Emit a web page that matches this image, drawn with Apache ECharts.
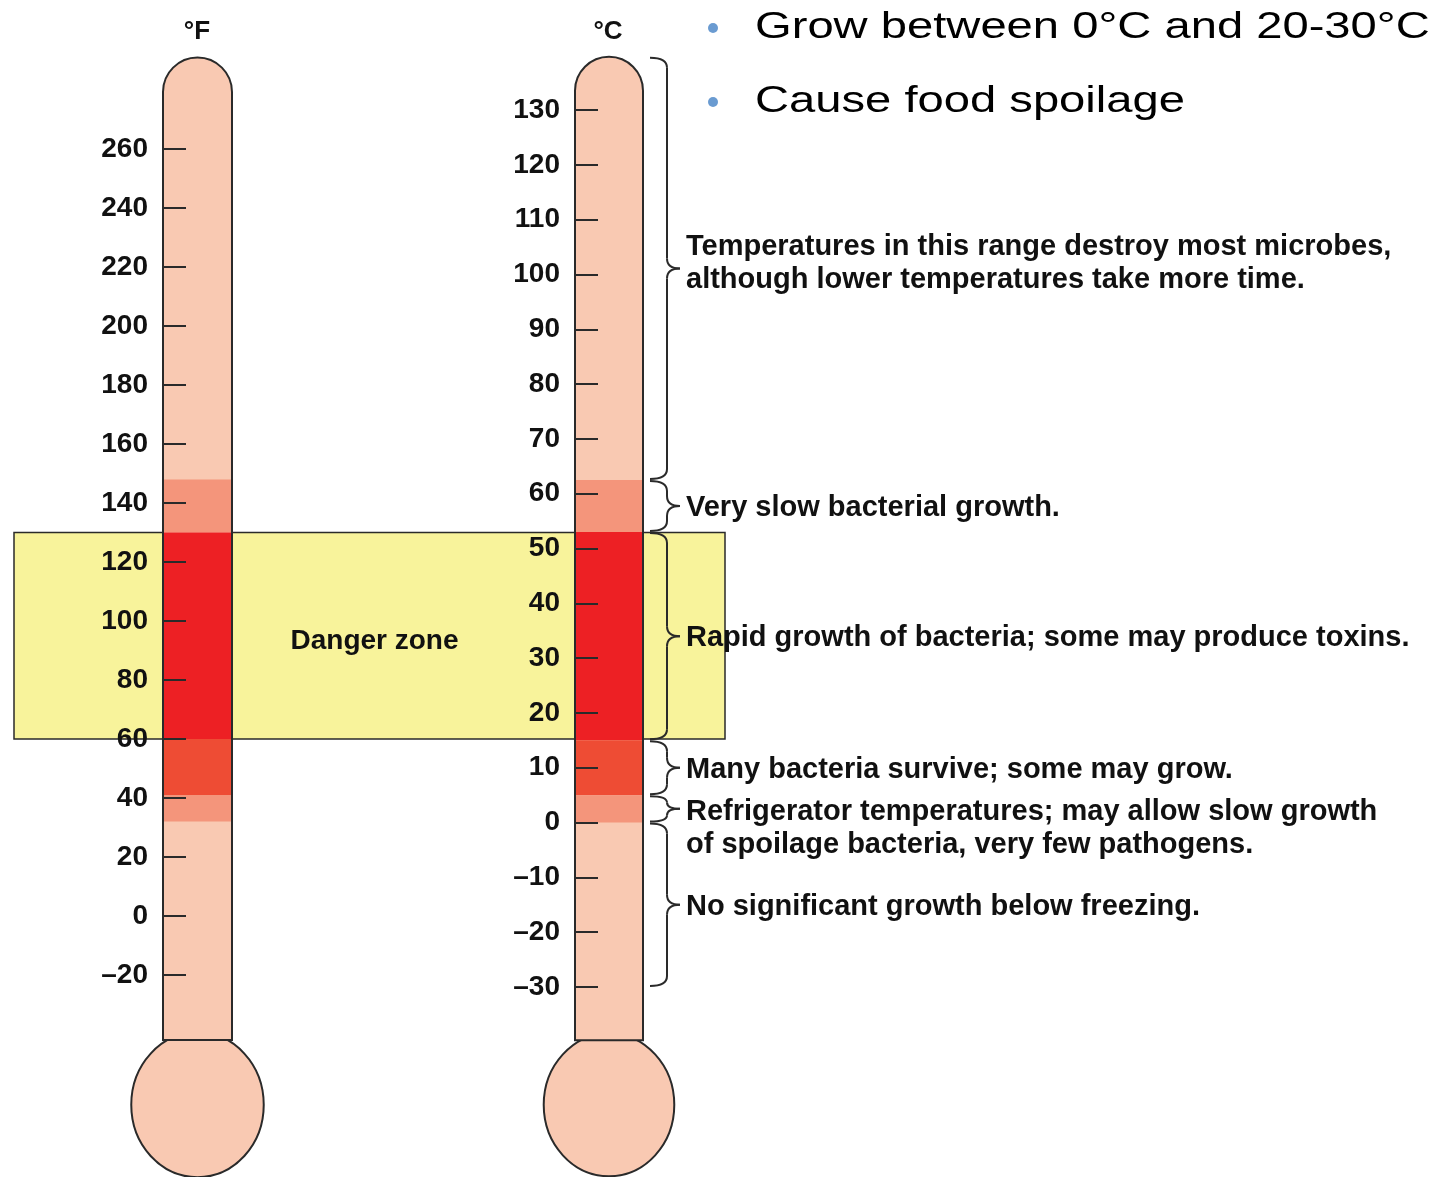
<!DOCTYPE html>
<html>
<head>
<meta charset="utf-8">
<title>Temperature and microbial growth</title>
<script src="https://cdn.jsdelivr.net/npm/echarts@6/dist/echarts.min.js"></script>
<style>
  html, body { margin: 0; padding: 0; background: #fff; }
  #chart { width: 1437px; height: 1177px; }
</style>
</head>
<body>
<div id="chart"></div>
<script>
// ---- data ----
var fahrenheitScale = [-20, 260, 20];   // min, max, tick step
var celsiusScale = [-30, 130, 10];

// column extent [bottom of stem, top of dome] and bulb centre, in degrees
var fahrenheitTube = [-42, 291, -64];
var celsiusTube = [-39.7, 139.7, -51.5];

// coloured bands inside the columns: [low, high, kind]
var fahrenheitBands = [[130, 148, 'slow'], [60, 130, 'rapid'], [41, 60, 'survive'], [32, 41, 'slow']];
var celsiusBands = [[53, 62.5, 'slow'], [15, 53, 'rapid'], [5, 15, 'survive'], [0, 5, 'slow']];

// danger zone, °F
var dangerZone = [60, 130];

// bracketed ranges on the °C scale and their notes
var noteRanges = [[62.5, 139.7], [53, 62.5], [15, 53], [5, 15], [0, 5], [-30, 0]];
var noteTexts = [
  'Temperatures in this range destroy most microbes,\nalthough lower temperatures take more time.',
  'Very slow bacterial growth.',
  'Rapid growth of bacteria; some may produce toxins.',
  'Many bacteria survive; some may grow.',
  'Refrigerator temperatures; may allow slow growth\nof spoilage bacteria, very few pathogens.',
  'No significant growth below freezing.'
];

var bullets = ['Grow between 0\u00b0C and 20-30\u00b0C', 'Cause food spoilage'];

// ---- style ----
var FONT = '"Liberation Sans", Arial, Helvetica, sans-serif';
var INK = '#2a2a2a';
var COLORS = {
  base: '#F9C9B2',
  slow: '#F4957B',
  rapid: '#ED2024',
  survive: '#EE4C34',
  zone: '#F8F39B'
};

var chart = echarts.init(document.getElementById('chart'));

function tubeItem(params, api) {
  var a = api.coord([0, api.value(0)]);
  var b = api.coord([1, api.value(1)]);
  var bulb = api.coord([0.5, api.value(2)]);
  var w = b[0] - a[0];
  return {
    type: 'group',
    children: [
      {
        type: 'ellipse',
        shape: { cx: bulb[0], cy: bulb[1], rx: w * 0.96, ry: w * 1.05 },
        style: { fill: COLORS.base, stroke: INK, lineWidth: 2 }
      },
      {
        type: 'rect',
        shape: { x: a[0], y: b[1], width: w, height: a[1] - b[1], r: [w / 2, w / 2, 0, 0] },
        style: { fill: COLORS.base, stroke: INK, lineWidth: 2 }
      }
    ]
  };
}

function bandRenderer(bands) {
  return function (params, api) {
    var a = api.coord([0, api.value(0)]);
    var b = api.coord([1, api.value(1)]);
    return {
      type: 'rect',
      shape: { x: a[0] + 1, y: b[1], width: b[0] - a[0] - 2, height: a[1] - b[1] },
      style: { fill: COLORS[bands[params.dataIndex][2]] }
    };
  };
}

function zoneItem(params, api) {
  var a = api.coord([0, api.value(0)]);
  var b = api.coord([1, api.value(1)]);
  return {
    type: 'group',
    children: [
      {
        type: 'rect',
        shape: { x: a[0], y: b[1], width: b[0] - a[0], height: a[1] - b[1] },
        style: { fill: COLORS.zone, stroke: INK, lineWidth: 1.5 }
      },
      {
        type: 'text',
        style: {
          text: 'Danger zone', x: (a[0] + b[0]) / 2 + 5, y: (a[1] + b[1]) / 2 + 6,
          align: 'center', verticalAlign: 'middle',
          fontFamily: FONT, fontWeight: 'bold', fontSize: 28, fill: '#111'
        }
      }
    ]
  };
}

function braceItem(params, api) {
  var top = api.coord([1, api.value(1)]);
  var bot = api.coord([1, api.value(0)]);
  var x0 = top[0] + 7, xm = top[0] + 24, xp = top[0] + 37;
  var y1 = top[1] + 1, y2 = bot[1] - 1, ym = (y1 + y2) / 2;
  var c = Math.min(10, (y2 - y1) / 4);
  var ls = { stroke: INK, lineWidth: 2, fill: null };
  var text = noteTexts[params.dataIndex];
  var twoLines = text.indexOf('\n') >= 0;
  var firstAtMid = twoLines && (y2 - y1) < 70;
  return {
    type: 'group',
    children: [
      { type: 'bezierCurve', shape: { x1: x0, y1: y1, cpx1: xm, cpy1: y1, x2: xm, y2: y1 + c }, style: ls },
      { type: 'line', shape: { x1: xm, y1: y1 + c, x2: xm, y2: ym - c }, style: ls },
      { type: 'bezierCurve', shape: { x1: xm, y1: ym - c, cpx1: xm, cpy1: ym, x2: xp, y2: ym }, style: ls },
      { type: 'bezierCurve', shape: { x1: xp, y1: ym, cpx1: xm, cpy1: ym, x2: xm, y2: ym + c }, style: ls },
      { type: 'line', shape: { x1: xm, y1: ym + c, x2: xm, y2: y2 - c }, style: ls },
      { type: 'bezierCurve', shape: { x1: xm, y1: y2 - c, cpx1: xm, cpy1: y2, x2: x0, y2: y2 }, style: ls },
      {
        type: 'text',
        style: {
          text: text, x: xp + 6, y: firstAtMid ? ym - 13 : (twoLines ? ym - 5 : ym + 2),
          align: 'left', verticalAlign: firstAtMid ? 'top' : 'middle', lineHeight: 33,
          fontFamily: FONT, fontWeight: 'bold', fontSize: 29, fill: '#111'
        }
      }
    ]
  };
}

function scaleAxis(scale, grid) {
  return {
    type: 'value', gridIndex: grid, min: scale[0], max: scale[1], interval: scale[2],
    position: 'left', z: 10,
    axisLine: { show: false },
    splitLine: { show: false },
    axisTick: { show: true, inside: true, length: 23, lineStyle: { color: INK, width: 2 } },
    axisLabel: {
      margin: 15, color: '#111', fontFamily: FONT, fontWeight: 'bold', fontSize: 28,
      formatter: function (v) { return v < 0 ? '\u2013' + (-v) : String(v); }
    }
  };
}

function hiddenX(grid) {
  return { type: 'value', gridIndex: grid, min: 0, max: 1, show: false };
}

chart.setOption({
  animation: false,
  textStyle: { fontFamily: FONT },
  grid: [
    { left: 163, top: 149, width: 69, height: 826, containLabel: false, outerBoundsMode: 'none' },
    { left: 575, top: 110, width: 68, height: 877, containLabel: false, outerBoundsMode: 'none' },
    { left: 14, top: 149, width: 711, height: 826, containLabel: false, outerBoundsMode: 'none' }
  ],
  xAxis: [hiddenX(0), hiddenX(1), hiddenX(2)],
  yAxis: [
    scaleAxis(fahrenheitScale, 0),
    scaleAxis(celsiusScale, 1),
    { type: 'value', gridIndex: 2, min: fahrenheitScale[0], max: fahrenheitScale[1], show: false }
  ],
  series: [
    { type: 'custom', name: 'danger zone', xAxisIndex: 2, yAxisIndex: 2, z: 1, clip: false,
      renderItem: zoneItem, data: [dangerZone] },
    { type: 'custom', name: 'F tube', xAxisIndex: 0, yAxisIndex: 0, z: 2, clip: false,
      renderItem: tubeItem, data: [fahrenheitTube] },
    { type: 'custom', name: 'C tube', xAxisIndex: 1, yAxisIndex: 1, z: 2, clip: false,
      renderItem: tubeItem, data: [celsiusTube] },
    { type: 'custom', name: 'F bands', xAxisIndex: 0, yAxisIndex: 0, z: 3, clip: false,
      renderItem: bandRenderer(fahrenheitBands), data: fahrenheitBands.map(function (d) { return [d[0], d[1]]; }) },
    { type: 'custom', name: 'C bands', xAxisIndex: 1, yAxisIndex: 1, z: 3, clip: false,
      renderItem: bandRenderer(celsiusBands), data: celsiusBands.map(function (d) { return [d[0], d[1]]; }) },
    { type: 'custom', name: 'notes', xAxisIndex: 1, yAxisIndex: 1, z: 4, clip: false,
      renderItem: braceItem, data: noteRanges }
  ],
  graphic: [
    { type: 'text', x: 197, y: 32, style: { text: '\u00b0F', align: 'center', verticalAlign: 'middle', fontFamily: FONT, fontWeight: 'bold', fontSize: 26, fill: '#111' } },
    { type: 'text', x: 608, y: 32, style: { text: '\u00b0C', align: 'center', verticalAlign: 'middle', fontFamily: FONT, fontWeight: 'bold', fontSize: 26, fill: '#111' } },
    { type: 'circle', shape: { cx: 713, cy: 28, r: 5 }, style: { fill: '#6A9BD1' } },
    { type: 'circle', shape: { cx: 713, cy: 102, r: 5 }, style: { fill: '#6A9BD1' } },
    { type: 'text', x: 755, y: 28, scaleX: 1.31, style: { text: bullets[0], verticalAlign: 'middle', fontFamily: FONT, fontSize: 36, fill: '#000' } },
    { type: 'text', x: 755, y: 102, scaleX: 1.31, style: { text: bullets[1], verticalAlign: 'middle', fontFamily: FONT, fontSize: 36, fill: '#000' } }
  ]
});
</script>
</body>
</html>
